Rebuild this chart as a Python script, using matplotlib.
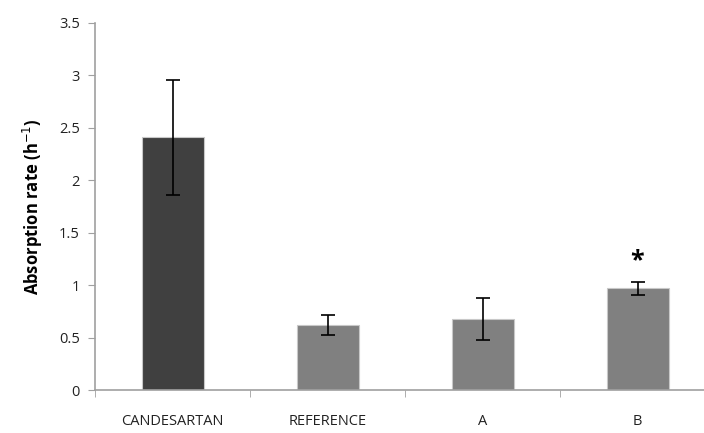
import numpy as np
import matplotlib.pyplot as plt
from matplotlib.ticker import FixedLocator

plt.rcParams['font.family'] = ['Open Sans', 'DejaVu Sans']

groups = ['CANDESARTAN', 'REFERENCE', 'A', 'B']
rate = [2.41, 0.62, 0.68, 0.97]
err = [0.55, 0.10, 0.20, 0.06]
colors = ['#404040', '#808080', '#808080', '#808080']

fig = plt.figure(figsize=(7.04, 4.33), dpi=100)
ax = fig.add_axes([95/704, 43/433, 620/704, 367/433])

x = np.arange(len(groups))
ax.bar(x, rate, width=0.4, color=colors, edgecolor='#c8c8c8', linewidth=0.8, zorder=2)
ax.errorbar(x, rate, yerr=err, fmt='none', ecolor='black', elinewidth=1.2,
            capsize=5, capthick=1.2, zorder=3)
ax.text(x[3], 1.23, '*', ha='center', va='center', fontsize=18, fontweight='bold')

ax.set_xlim(-0.5, 3.5)
ax.set_ylim(0, 3.5)
ax.set_yticks(np.arange(0, 3.51, 0.5))
ax.set_yticklabels(['0', '0.5', '1', '1.5', '2', '2.5', '3', '3.5'])
ax.set_xticks(x)
ax.set_xticklabels(groups)
ax.xaxis.set_minor_locator(FixedLocator([-0.5, 0.5, 1.5, 2.5, 3.5]))
ax.tick_params(axis='x', which='major', length=0, pad=17, labelsize=10.5, colors='#222222')
ax.tick_params(axis='x', which='minor', length=5, direction='out', color='#a0a0a0')
ax.tick_params(axis='y', length=5, direction='out', color='#a0a0a0', labelsize=10.5,
               labelcolor='#222222', pad=6)

for s in ['top', 'right']:
    ax.spines[s].set_visible(False)
for s in ['left', 'bottom']:
    ax.spines[s].set_color('#a0a0a0')
    ax.spines[s].set_linewidth(1.2)

ax.set_ylabel('Absorption rate (h$^{-1}$)', fontsize=12, fontweight='bold', labelpad=10)

fig.savefig('out.png', dpi=100)
